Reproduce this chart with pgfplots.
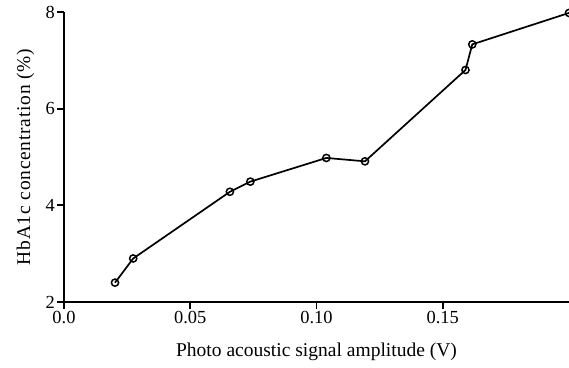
\documentclass[border=0pt]{standalone}
\usepackage{fontspec}
\setmainfont{Liberation Serif}
\usepackage{pgfplots}
\pgfplotsset{compat=1.18}
\begin{document}
\begin{tikzpicture}
\begin{axis}[
  scale only axis, width=505bp, height=290bp,
  xmin=0, xmax=0.2, ymin=2, ymax=8,
  axis x line*=bottom, axis y line*=left,
  axis line style={line width=2bp, -},
  xtick={0,0.05,0.1,0.15}, xticklabels={0.0,0.05,0.10,0.15},
  ytick={2,4,6,8}, yticklabels={2,4,6,8},
  tick align=outside, major tick length=7bp,
  tick style={line width=1.8bp, black},
  /pgf/number format/assume math mode=true,
  tick label style={font=\fontsize{18.5}{21}\selectfont},
  xticklabel style={inner sep=1bp, yshift=-1bp},
  yticklabel style={inner sep=2bp},
  xlabel={Photo acoustic signal amplitude (V)},
  ylabel={HbA1c concentration (\%)},
  xlabel style={font=\fontsize{19.6}{21}\selectfont, at={(axis description cs:0.5,-0.1897)}, anchor=base},
  ylabel style={font=\fontsize{19.5}{21}\selectfont\addfontfeatures{LetterSpace=4}, at={(axis description cs:-0.0673,0.5)}, anchor=base},
  clip=false,
]
\addplot[black, line width=1.7bp, mark=o, mark size=3.6bp,
  mark options={fill=white, line width=1.5bp, solid}]
  coordinates {
  (0.0202,2.40) (0.0274,2.90) (0.0657,4.28) (0.0738,4.49)
  (0.1039,4.98) (0.1192,4.91) (0.1590,6.80) (0.1617,7.33) (0.2000,7.98)
  };
\coordinate (bl) at (axis cs:-0.02535,0.634);
\coordinate (tr) at (axis cs:0.2,8.248);
\end{axis}
\pgfresetboundingbox
\path[use as bounding box] (bl) rectangle (tr);
\end{tikzpicture}
\end{document}
